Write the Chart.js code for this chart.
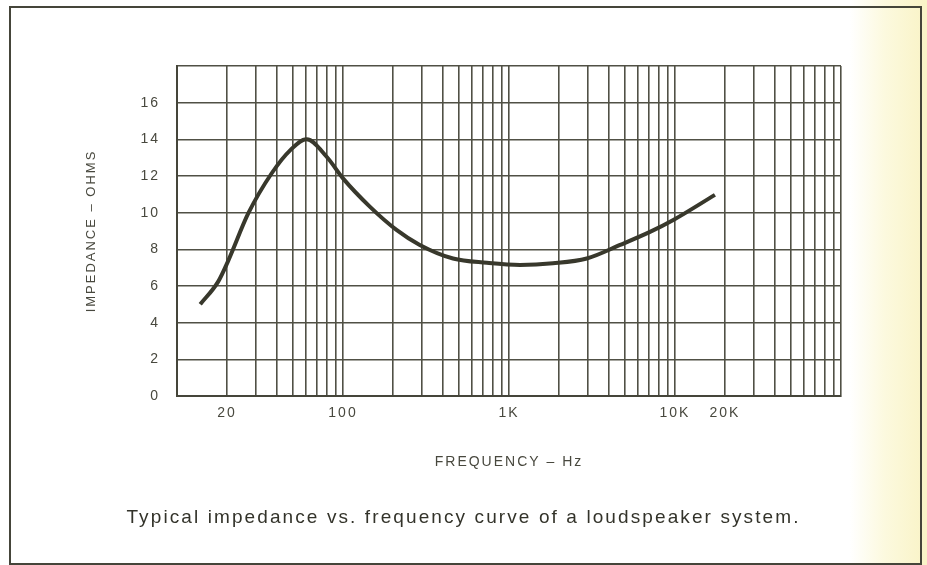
<!DOCTYPE html>
<html>
<head>
<meta charset="utf-8">
<script src="https://cdn.jsdelivr.net/npm/chart.js@4"></script>
<style>
  html, body { margin: 0; padding: 0; }
  body {
    width: 927px; height: 565px; overflow: hidden; position: relative;
    background: linear-gradient(to right, #ffffff 0px, #ffffff 850px, #fcf9de 885px, #f9f3c6 927px);
    font-family: "Liberation Sans", Arial, sans-serif;
  }
  #frame {
    position: absolute; left: 9px; top: 6px; width: 909px; height: 555px;
    border: 2px solid #45453a;
  }
  #wrap { position: absolute; left: 0; top: 0; width: 927px; height: 565px; }
  #caption {
    position: absolute; left: 0; top: 506px; width: 927px; text-align: center;
    font-size: 19px; letter-spacing: 2.1px; color: #33332a; line-height: 22px;
  }
</style>
</head>
<body>
<div id="frame"></div>
<div id="wrap"><canvas id="chart" width="927" height="565"></canvas></div>
<div id="caption">Typical impedance vs. frequency curve of a loudspeaker system.</div>
<script>
// curve (frequency in Hz, impedance in ohms)
const freqHz = [13.8, 17.7, 20.4, 26.9, 37.2, 48, 60.4, 79.7, 100, 145, 210, 290, 460, 735, 1165, 1840, 2940, 4670, 7070, 9770, 17400];
const impedance = [5.0, 6.24, 7.4, 9.97, 12.15, 13.4, 14.0, 13.05, 11.87, 10.33, 9.06, 8.24, 7.5, 7.27, 7.15, 7.24, 7.5, 8.24, 8.95, 9.6, 10.97];

// tick labels that are printed under the log grid
const xTickLabels = { 20: '20', 100: '100', 1000: '1K', 10000: '10K', 20000: '20K' };
const yTicks = [0, 2, 4, 6, 8, 10, 12, 14, 16];

const inkGrid = '#505045';
const inkText = '#48483e';

// letter spacing for the tick and axis labels
const spacedText = {
    id: 'spacedText',
    beforeDraw(chart) {
        chart.ctx.letterSpacing = '2px';
    }
};

const points = freqHz.map((f, i) => ({ x: f, y: impedance[i] }));

new Chart(document.getElementById('chart'), {
    type: 'line',
    data: {
        datasets: [{
            data: points,
            borderColor: '#38382c',
            borderWidth: 4,
            pointRadius: 0,
            cubicInterpolationMode: 'monotone',
            fill: false
        }]
    },
    options: {
        responsive: false,
        animation: false,
        layout: { padding: { left: 0, top: 66, right: 86, bottom: 0 } },
        plugins: { legend: { display: false }, tooltip: { enabled: false } },
        scales: {
            x: {
                type: 'logarithmic',
                min: 10,
                max: 100000,
                afterBuildTicks(scale) {
                    const ticks = [];
                    for (let d = 10; d < 100000; d *= 10) {
                        for (let m = 1; m < 10; m++) ticks.push({ value: d * m });
                    }
                    ticks.push({ value: 100000 });
                    scale.ticks = ticks;
                },
                afterFit(scale) { scale.height = 169; },
                grid: { color: inkGrid, lineWidth: 1.6, drawTicks: false },
                border: { color: '#45453a', width: 2 },
                ticks: {
                    autoSkip: false,
                    maxRotation: 0,
                    padding: 9,
                    color: inkText,
                    font: { family: 'Liberation Sans', size: 14 },
                    callback: (v) => xTickLabels[Math.round(v)] || ''
                },
                title: {
                    display: true,
                    text: 'FREQUENCY – Hz',
                    color: inkText,
                    font: { family: 'Liberation Sans', size: 14 },
                    padding: { top: 0, bottom: 94 }
                }
            },
            y: {
                min: 0,
                max: 18,
                afterBuildTicks(scale) {
                    scale.ticks = yTicks.concat([18]).map(v => ({ value: v }));
                },
                afterFit(scale) { scale.width = 177; },
                grid: { color: inkGrid, lineWidth: 1.6, drawTicks: false },
                border: { color: '#45453a', width: 2 },
                ticks: {
                    padding: 17,
                    color: inkText,
                    font: { family: 'Liberation Sans', size: 14 },
                    callback: (v) => (yTicks.includes(v) ? String(v) : '')
                },
                title: {
                    display: true,
                    text: 'IMPEDANCE – OHMS',
                    color: inkText,
                    font: { family: 'Liberation Sans', size: 13 },
                    padding: { top: 84, bottom: 0 }
                }
            }
        }
    },
    plugins: [spacedText]
});
</script>
</body>
</html>
